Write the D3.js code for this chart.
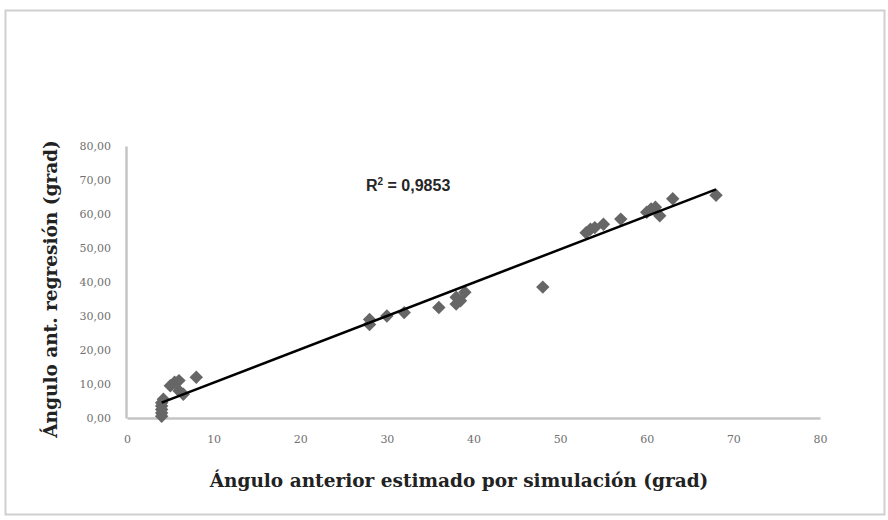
<!DOCTYPE html>
<html>
<head>
<meta charset="utf-8">
<script src="https://cdn.jsdelivr.net/npm/d3@7"></script>
<style>
  body { margin: 0; background: #fff; }
</style>
</head>
<body>
<svg></svg>
<script>
// estimated angle from simulation (x) vs regression angle (y)
const simAngle = [4, 4, 4, 4, 4, 4.2, 5, 5.5, 6, 6, 6.5, 8,
  28, 28, 30, 32, 36, 38, 38, 38.5, 39, 48,
  53, 53.5, 54, 55, 57, 60, 60.5, 61, 61.5, 63, 68]
const regAngle = [0.5, 1.5, 2.5, 3.5, 4.5, 5.5, 9.5, 10.5, 11, 8, 7, 12,
  29, 27.5, 30, 31, 32.5, 33.5, 35.5, 34.5, 37, 38.5,
  54.5, 55.5, 56, 57, 58.5, 60.5, 61.5, 62, 59.5, 64.5, 65.5]

// linear trend
const trendSlope = 0.98
const trendIntercept = 0.6
const trendRange = [4, 68]
const rSquared = '0,9853'

const xTicks = [0, 10, 20, 30, 40, 50, 60, 70, 80]
const yTicks = [0, 10, 20, 30, 40, 50, 60, 70, 80]

const xTitle = 'Ángulo anterior estimado por simulación (grad)'
const yTitle = 'Ángulo ant. regresión (grad)'

const width = 888
const height = 520
const margin = ({ top: 146, right: 68, bottom: 102, left: 127 })

const dataset = simAngle.map((d, i) => ({ x: d, y: regAngle[i] }))

const x = d3.scaleLinear()
  .domain([0, 80])
  .range([margin.left, width - margin.right])

const y = d3.scaleLinear()
  .domain([0, 80])
  .range([height - margin.bottom, margin.top])

const svg = d3.select('svg')
  .attr('width', width)
  .attr('height', height)

// outer chart frame
svg.append('rect')
  .attr('x', 5.5)
  .attr('y', 10.5)
  .attr('width', 879)
  .attr('height', 504)
  .attr('fill', '#fff')
  .attr('stroke', '#cfcfcf')
  .attr('stroke-width', 2)

function xAxis (g) {
  g.attr('transform', `translate(0,${height - margin.bottom})`)
    .call(d3.axisBottom(x).tickValues(xTicks).tickSize(0).tickPadding(17)
      .tickFormat(d3.format('d')))
    .call(g => g.select('.domain')
      .attr('stroke', '#c4c4c4')
      .attr('stroke-width', 2.5))
    .call(g => g.selectAll('.tick text')
      .attr('fill', '#707070')
      .attr('font-family', 'DejaVu Serif')
      .attr('font-size', '11px'))
}

function yAxis (g) {
  g.attr('transform', `translate(${margin.left - 1},0)`)
    .call(d3.axisLeft(y).tickValues(yTicks).tickSize(0).tickPadding(15)
      .tickFormat(d => d3.format('.2f')(d).replace('.', ',')))
    .call(g => g.select('.domain')
      .attr('stroke', '#c4c4c4')
      .attr('stroke-width', 2.5))
    .call(g => g.selectAll('.tick text')
      .attr('fill', '#707070')
      .attr('font-family', 'DejaVu Serif')
      .attr('font-size', '11px'))
}

svg.append('g').call(xAxis)
svg.append('g').call(yAxis)

// data points as grey diamonds
svg.append('g')
  .attr('fill', '#666')
  .selectAll('path')
  .data(dataset)
  .enter().append('path')
  .attr('d', d3.symbol(d3.symbolSquare, 90))
  .attr('transform', d => `translate(${x(d.x)},${y(d.y)}) rotate(45)`)

// trend line
svg.append('line')
  .attr('x1', x(trendRange[0]))
  .attr('y1', y(trendSlope * trendRange[0] + trendIntercept))
  .attr('x2', x(trendRange[1]))
  .attr('y2', y(trendSlope * trendRange[1] + trendIntercept))
  .attr('stroke', '#000')
  .attr('stroke-width', 2.5)

// R squared label
const r2 = svg.append('text')
  .attr('x', 366)
  .attr('y', 191)
  .attr('font-family', 'Liberation Sans, Arial, sans-serif')
  .attr('font-weight', 'bold')
  .attr('font-size', '16px')
  .attr('fill', '#262626')
r2.append('tspan').text('R')
r2.append('tspan').attr('dy', -6).attr('font-size', '10px').text('2')
r2.append('tspan').attr('dy', 6).text(' = ' + rSquared)

// axis titles
svg.append('text')
  .attr('x', 459)
  .attr('y', 487)
  .attr('text-anchor', 'middle')
  .attr('font-family', 'DejaVu Serif')
  .attr('font-weight', 'bold')
  .attr('font-size', '18.5px')
  .attr('fill', '#222')
  .text(xTitle)

svg.append('text')
  .attr('transform', 'translate(57,289) rotate(-90)')
  .attr('text-anchor', 'middle')
  .attr('font-family', 'DejaVu Serif')
  .attr('font-weight', 'bold')
  .attr('font-size', '18.5px')
  .attr('fill', '#222')
  .text(yTitle)
</script>
</body>
</html>
